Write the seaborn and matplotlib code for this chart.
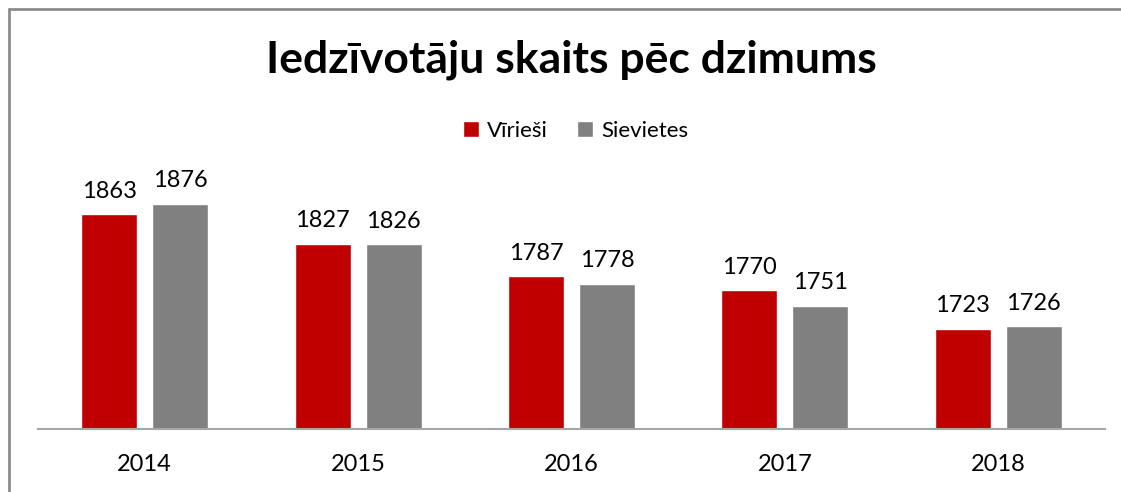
import pandas as pd
import matplotlib.pyplot as plt
import seaborn as sns
from matplotlib.lines import Line2D

years = ["2014", "2015", "2016", "2017", "2018"]
virieSi = [1863, 1827, 1787, 1770, 1723]
sievietes = [1876, 1826, 1778, 1751, 1726]
series_names = ["Vīrieši", "Sievietes"]
colors = ["#C00000", "#808080"]

df = pd.DataFrame({
    "year": years * 2,
    "value": virieSi + sievietes,
    "sex": [series_names[0]] * len(years) + [series_names[1]] * len(years),
})

sns.set_style("white")
plt.rcParams["font.family"] = ["Lato", "DejaVu Sans"]
plt.rcParams["text.color"] = "black"

W, H = 1121, 492
fig = plt.figure(figsize=(W / 100, H / 100), dpi=100)
ax = fig.add_axes([38 / W, (H - 429) / H, (1105 - 38) / W, (429 - 184) / H])

sns.barplot(data=df, x="year", y="value", hue="sex", palette=colors,
            width=0.665, gap=0.211, saturation=1, ax=ax, legend=True)

ax.set_ylim(1600, 1900)
ax.set_xlim(-0.5, 4.5)
for c in ax.containers:
    ax.bar_label(c, fontsize=17, padding=9, color="black")

ax.set_yticks([])
ax.set_xlabel("")
ax.set_ylabel("")
ax.tick_params(axis="x", length=0, labelsize=17, pad=18, colors="black")
sns.despine(ax=ax, left=True, top=True, right=True)
ax.spines["bottom"].set_color("#a6a6a6")
ax.spines["bottom"].set_linewidth(1.5)

handles, labels = ax.get_legend_handles_labels()
leg = ax.legend(handles, labels, loc="center", bbox_to_anchor=(575.5 / W, (H - 131) / H),
                bbox_transform=fig.transFigure, ncol=2, frameon=False, fontsize=16,
                handlelength=0.7, handleheight=0.7, handletextpad=0.36, columnspacing=1.35)
for t in leg.get_texts():
    t.set_color("black")

fig.text(571 / W, (H - 60) / H, "Iedzīvotāju skaits pēc dzimums", ha="center", va="center",
         fontsize=32, fontweight="bold", color="black")

# outer frame (left and top edges visible)
fig.add_artist(Line2D([8.5 / W, 8.5 / W], [0, (H - 8.5) / H], transform=fig.transFigure,
                      color="#8c8c8c", lw=2))
fig.add_artist(Line2D([8.5 / W, 1], [(H - 8.5) / H, (H - 8.5) / H], transform=fig.transFigure,
                      color="#8c8c8c", lw=2))

fig.savefig("out.png", dpi=100)
